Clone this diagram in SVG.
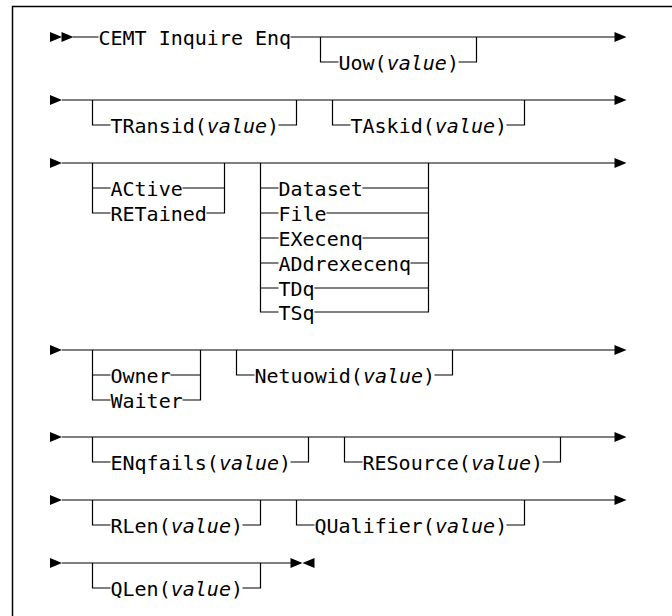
<svg xmlns="http://www.w3.org/2000/svg" width="672" height="616" viewBox="0 0 672 616">
<style>
  .t { font-family: "DejaVu Sans Mono", "Liberation Mono", monospace; font-size: 20px; fill: #000; }
  .i { font-style: italic; }
  .c { fill: none; stroke: #000; stroke-width: 1.2; }
  .a { fill: #000; stroke: none; }
  .f { fill: none; stroke: #000; stroke-width: 1.5; }
</style>
<defs>
  <polygon id="ar" points="0,-5 12,0 0,5"/>
  <polygon id="al" points="12,-5 0,0 12,5"/>
</defs>
<rect width="672" height="616" fill="#fff"/>
<path class="f" d="M12.5,620 V6.5 H680"/>

<g id="connectors">
  <!-- row 1 -->
  <path class="c" d="M73,37 H98.5 M290.5,37 H615"/>
  <path class="c" d="M320.5,37 V62 H338.5 M458.5,62 H476.5 V37"/>
  <!-- row 2 -->
  <path class="c" d="M62,100 H615"/>
  <path class="c" d="M92.5,100 V125 H110.5 M278.5,125 H296.5 V100"/>
  <path class="c" d="M332.5,100 V125 H350.5 M506.5,125 H524.5 V100"/>
  <!-- row 3 -->
  <path class="c" d="M62,163 H615"/>
  <path class="c" d="M92.5,163 V213 H110.5 M92.5,188 H110.5 M182.5,188 H224.5 M206.5,213 H224.5 V163"/>
  <path class="c" d="M260.5,163 V312 H278.5 M260.5,188 H278.5 M260.5,213 H278.5 M260.5,238 H278.5 M260.5,263 H278.5 M260.5,288 H278.5"/>
  <path class="c" d="M428.5,163 V312 H314.5 M362.5,188 H428.5 M326.5,213 H428.5 M362.5,238 H428.5 M410.5,263 H428.5 M314.5,288 H428.5"/>
  <!-- row 4 -->
  <path class="c" d="M62,350 H615"/>
  <path class="c" d="M92.5,350 V400 H110.5 M92.5,375 H110.5 M170.5,375 H200.5 M182.5,400 H200.5 V350"/>
  <path class="c" d="M236.5,350 V375 H254.5 M434.5,375 H452.5 V350"/>
  <!-- row 5 -->
  <path class="c" d="M62,437 H615"/>
  <path class="c" d="M92.5,437 V462 H110.5 M290.5,462 H308.5 V437"/>
  <path class="c" d="M344.5,437 V462 H362.5 M542.5,462 H560.5 V437"/>
  <!-- row 6 -->
  <path class="c" d="M62,500 H615"/>
  <path class="c" d="M92.5,500 V525 H110.5 M242.5,525 H260.5 V500"/>
  <path class="c" d="M296.5,500 V525 H314.5 M506.5,525 H524.5 V500"/>
  <!-- row 7 -->
  <path class="c" d="M62,563 H291"/>
  <path class="c" d="M92.5,563 V588 H110.5 M242.5,588 H260.5 V563"/>
  <!-- arrows -->
  <use href="#ar" class="a" x="50" y="37"/>
  <use href="#ar" class="a" x="61.5" y="37"/>
  <use href="#ar" class="a" x="614.5" y="37"/>
  <use href="#ar" class="a" x="50" y="100"/>
  <use href="#ar" class="a" x="614.5" y="100"/>
  <use href="#ar" class="a" x="50" y="163"/>
  <use href="#ar" class="a" x="614.5" y="163"/>
  <use href="#ar" class="a" x="50" y="350"/>
  <use href="#ar" class="a" x="614.5" y="350"/>
  <use href="#ar" class="a" x="50" y="437"/>
  <use href="#ar" class="a" x="614.5" y="437"/>
  <use href="#ar" class="a" x="50" y="500"/>
  <use href="#ar" class="a" x="614.5" y="500"/>
  <use href="#ar" class="a" x="50" y="563"/>
  <use href="#ar" class="a" x="290.5" y="563"/>
  <use href="#al" class="a" x="302.5" y="563"/>
</g>

<g id="cmd"><text class="t" x="98.5" y="44.5">CEMT Inquire Enq</text></g>
<g id="uow"><text class="t" x="338.5" y="69.5">Uow(<tspan class="i">value</tspan>)</text></g>
<g id="transid"><text class="t" x="110.5" y="132.5">TRansid(<tspan class="i">value</tspan>)</text></g>
<g id="taskid"><text class="t" x="350.5" y="132.5">TAskid(<tspan class="i">value</tspan>)</text></g>
<g id="active"><text class="t" x="110.5" y="195.5">ACtive</text></g>
<g id="retained"><text class="t" x="110.5" y="220.5">RETained</text></g>
<g id="dataset"><text class="t" x="278.5" y="195.5">Dataset</text></g>
<g id="file"><text class="t" x="278.5" y="220.5">File</text></g>
<g id="execenq"><text class="t" x="278.5" y="245.5">EXecenq</text></g>
<g id="addrexecenq"><text class="t" x="278.5" y="270.5">ADdrexecenq</text></g>
<g id="tdq"><text class="t" x="278.5" y="295.5">TDq</text></g>
<g id="tsq"><text class="t" x="278.5" y="319.5">TSq</text></g>
<g id="owner"><text class="t" x="110.5" y="382.5">Owner</text></g>
<g id="waiter"><text class="t" x="110.5" y="407.5">Waiter</text></g>
<g id="netuowid"><text class="t" x="254.5" y="382.5">Netuowid(<tspan class="i">value</tspan>)</text></g>
<g id="enqfails"><text class="t" x="110.5" y="469.5">ENqfails(<tspan class="i">value</tspan>)</text></g>
<g id="resource"><text class="t" x="362.5" y="469.5">RESource(<tspan class="i">value</tspan>)</text></g>
<g id="rlen"><text class="t" x="110.5" y="532.5">RLen(<tspan class="i">value</tspan>)</text></g>
<g id="qualifier"><text class="t" x="314.5" y="532.5">QUalifier(<tspan class="i">value</tspan>)</text></g>
<g id="qlen"><text class="t" x="110.5" y="595.5">QLen(<tspan class="i">value</tspan>)</text></g>
</svg>
